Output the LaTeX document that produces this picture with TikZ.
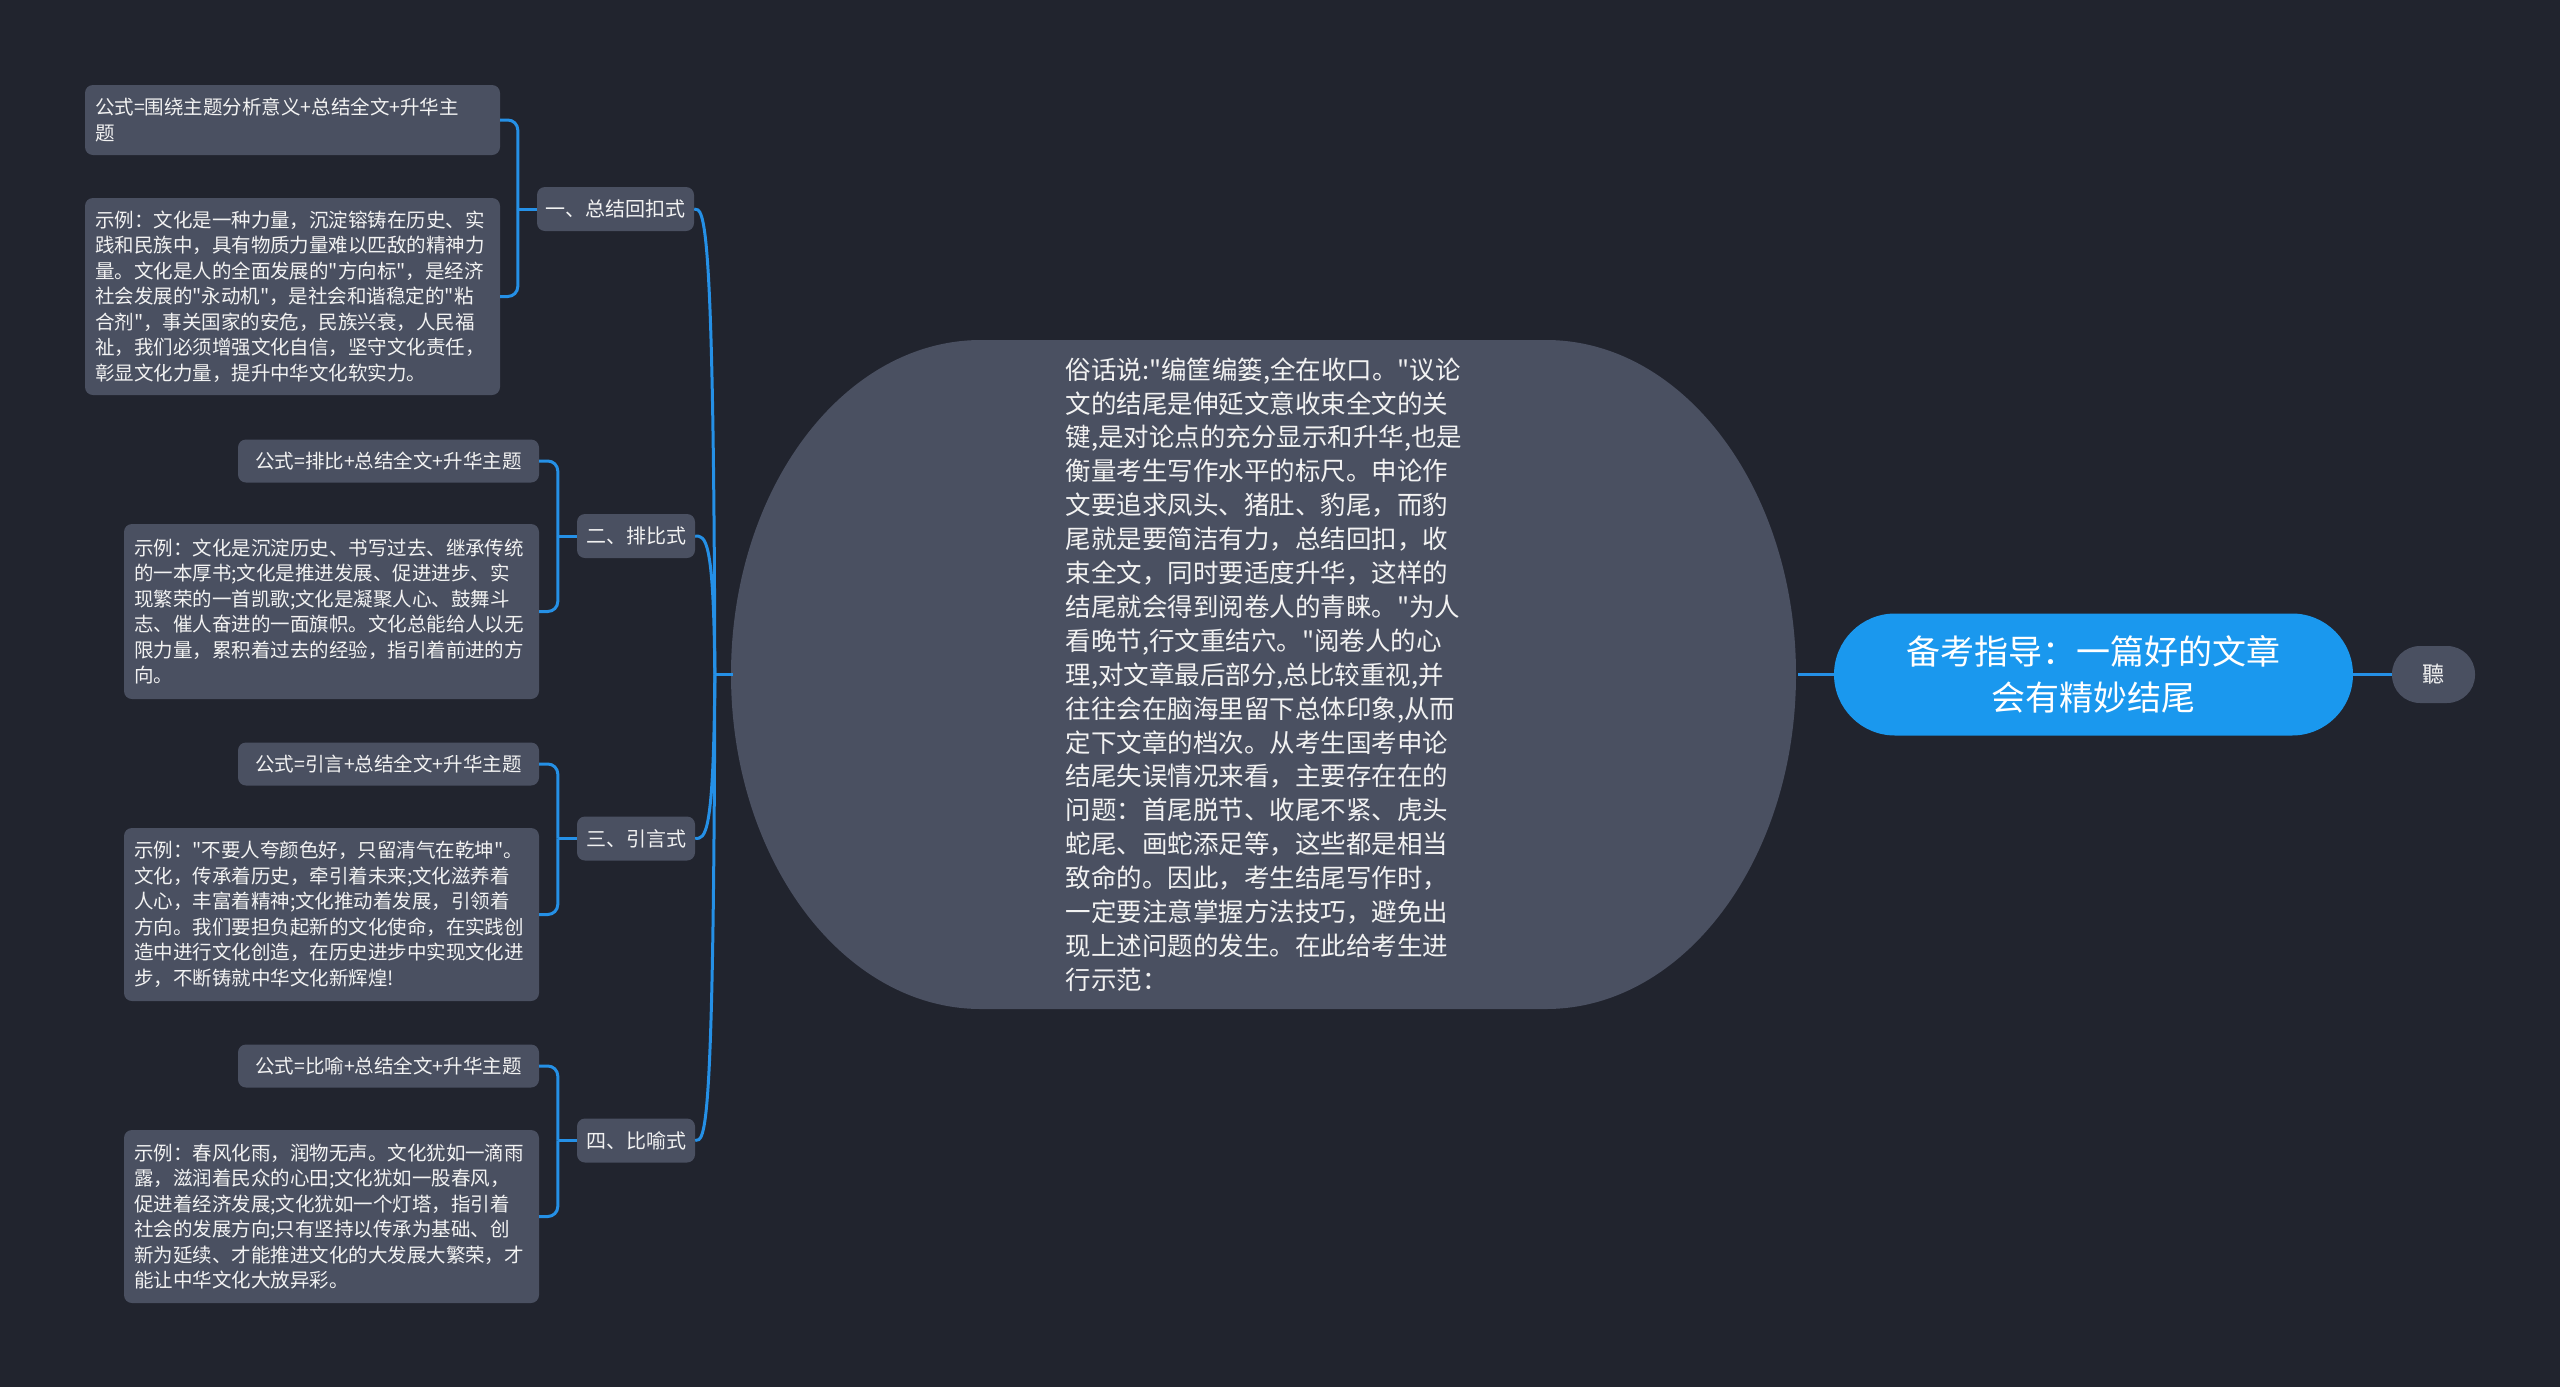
\documentclass[tikz,border=0pt]{standalone}
\usepackage{fontspec}
\setmainfont{Noto Sans CJK SC}
\newfontfamily\cjk{Noto Sans CJK SC}
\usetikzlibrary{calc}
\definecolor{bg}{HTML}{21242E}
\definecolor{ngray}{HTML}{4A5061}
\definecolor{rootblue}{HTML}{1A98EE}
\definecolor{lineblue}{HTML}{2590E6}
\definecolor{txt}{HTML}{F2F2F2}
\begin{document}
\begin{tikzpicture}[x=1pt,y=-1pt,
  conn/.style={draw=lineblue, line width=3pt},
  leafbox/.style={fill=ngray, rounded corners=8pt, text=txt, inner xsep=10pt, inner ysep=0pt,
    font=\cjk\fontsize{19.5}{25.5}\selectfont, align=left, text width=395pt, minimum width=415pt},
  formbox/.style={fill=ngray, rounded corners=8pt, text=txt, inner xsep=10pt, inner ysep=0pt,
    font=\cjk\fontsize{19.5}{25.5}\selectfont, align=center, minimum width=301pt, minimum height=43pt},
  branchbox/.style={fill=ngray, rounded corners=8pt, text=txt, inner xsep=8pt, inner ysep=0pt,
    font=\cjk\fontsize{20}{26}\selectfont, align=center, minimum height=44pt},
]
\useasboundingbox (0,0) rectangle (2560,1387);
\fill[bg] (0,0) rectangle (2560,1387);

% central rounded shape
\fill[ngray] (731,674.5) .. controls (731,489.8) and (842.9,340) .. (981,340)
  -- (1546,340) .. controls (1684.1,340) and (1796,489.8) .. (1796,674.5)
  .. controls (1796,859.2) and (1684.1,1009) .. (1546,1009)
  -- (981,1009) .. controls (842.9,1009) and (731,859.2) .. (731,674.5) -- cycle;

\node[minimum width=1065pt, minimum height=669pt, inner sep=0pt, text width=400pt, align=left,
  text=txt, font=\cjk\fontsize{25.5}{33.9}\selectfont] (c) at (1265.5,674.5) {%
俗话说:"编筐编篓,全在收口。"议论\\
文的结尾是伸延文意收束全文的关\\
键,是对论点的充分显示和升华,也是\\
衡量考生写作水平的标尺。申论作\\
文要追求凤头、猪肚、豹尾，而豹\\
尾就是要简洁有力，总结回扣，收\\
束全文，同时要适度升华，这样的\\
结尾就会得到阅卷人的青睐。"为人\\
看晚节,行文重结穴。"阅卷人的心\\
理,对文章最后部分,总比较重视,并\\
往往会在脑海里留下总体印象,从而\\
定下文章的档次。从考生国考申论\\
结尾失误情况来看，主要存在在的\\
问题：首尾脱节、收尾不紧、虎头\\
蛇尾、画蛇添足等，这些都是相当\\
致命的。因此，考生结尾写作时，\\
一定要注意掌握方法技巧，避免出\\
现上述问题的发生。在此给考生进\\
行示范：};

% root and right node
\node[fill=rootblue, rounded corners=61pt, minimum width=519pt, minimum height=122pt, inner sep=0pt,
  text=white, align=center, font=\cjk\fontsize{34}{46}\selectfont] (root) at (2093.5,674.5)
  {备考指导：一篇好的文章\\会有精妙结尾};
\node[fill=ngray, rounded corners=28pt, minimum width=83pt, minimum height=57pt, inner sep=0pt,
  text=txt, font=\cjk\fontsize{22}{26}\selectfont] (ting) at (2433.5,674.5) {聽};

\draw[conn] (c.east) -- (root.west);
\draw[conn] (root.east) -- (ting.west);

% branch nodes
\node[branchbox, minimum width=157pt] (b1) at (615.5,209) {一、总结回扣式};
\node[branchbox, minimum width=118pt] (b2) at (636,536) {二、排比式};
\node[branchbox, minimum width=118pt] (b3) at (636,838.5) {三、引言式};
\node[branchbox, minimum width=118pt] (b4) at (636,1140.5) {四、比喻式};

% leaves
\node[leafbox, minimum height=70pt] (l1a) at (292.5,120) {公式=围绕主题分析意义+总结全文+升华主\\题};
\node[leafbox, minimum height=197pt] (l1b) at (292.5,296.5) {%
示例：文化是一种力量，沉淀镕铸在历史、实\\
践和民族中，具有物质力量难以匹敌的精神力\\
量。文化是人的全面发展的"方向标"，是经济\\
社会发展的"永动机"，是社会和谐稳定的"粘\\
合剂"，事关国家的安危，民族兴衰，人民福\\
祉，我们必须增强文化自信，坚守文化责任，\\
彰显文化力量，提升中华文化软实力。};

\node[formbox] (l2a) at (388.5,461) {公式=排比+总结全文+升华主题};
\node[leafbox, minimum height=175pt] (l2b) at (331.5,611.5) {%
示例：文化是沉淀历史、书写过去、继承传统\\
的一本厚书;文化是推进发展、促进进步、实\\
现繁荣的一首凯歌;文化是凝聚人心、鼓舞斗\\
志、催人奋进的一面旗帜。文化总能给人以无\\
限力量，累积着过去的经验，指引着前进的方\\
向。};

\node[formbox] (l3a) at (388.5,764) {公式=引言+总结全文+升华主题};
\node[leafbox, minimum height=173pt] (l3b) at (331.5,914.5) {%
示例："不要人夸颜色好，只留清气在乾坤"。\\
文化，传承着历史，牵引着未来;文化滋养着\\
人心，丰富着精神;文化推动着发展，引领着\\
方向。我们要担负起新的文化使命，在实践创\\
造中进行文化创造，在历史进步中实现文化进\\
步，不断铸就中华文化新辉煌!};

\node[formbox] (l4a) at (388.5,1066) {公式=比喻+总结全文+升华主题};
\node[leafbox, minimum height=173pt] (l4b) at (331.5,1216.5) {%
示例：春风化雨，润物无声。文化犹如一滴雨\\
露，滋润着民众的心田;文化犹如一股春风，\\
促进着经济发展;文化犹如一个灯塔，指引着\\
社会的发展方向;只有坚持以传承为基础、创\\
新为延续、才能推进文化的大发展大繁荣，才\\
能让中华文化大放异彩。};

% trunk from central shape to branches
\coordinate (T) at ($(c.west)+(-18,0)$);
\draw[conn] (c.west) -- (T);
\foreach \b in {b1,b2,b3,b4}{
  \draw[conn] (T) .. controls ($(T |- \b.east)+(-1,0)$) and ($(\b.east)+(10,0)$) .. (\b.east);
}

% brackets from branches to leaves
\coordinate (j1) at ($(b1.west)+(-19,0)$);
\coordinate (j2) at ($(b2.west)+(-19,0)$);
\coordinate (j3) at ($(b3.west)+(-19,0)$);
\coordinate (j4) at ($(b4.west)+(-19,0)$);
\foreach \j/\b/\la/\lb in {j1/b1/l1a/l1b, j2/b2/l2a/l2b, j3/b3/l3a/l3b, j4/b4/l4a/l4b}{
  \draw[conn] (\b.west) -- (\j);
  \draw[conn, rounded corners=10pt] (\la.east) -| (\j);
  \draw[conn, rounded corners=10pt] (\lb.east) -| (\j);
}
\end{tikzpicture}
\end{document}
